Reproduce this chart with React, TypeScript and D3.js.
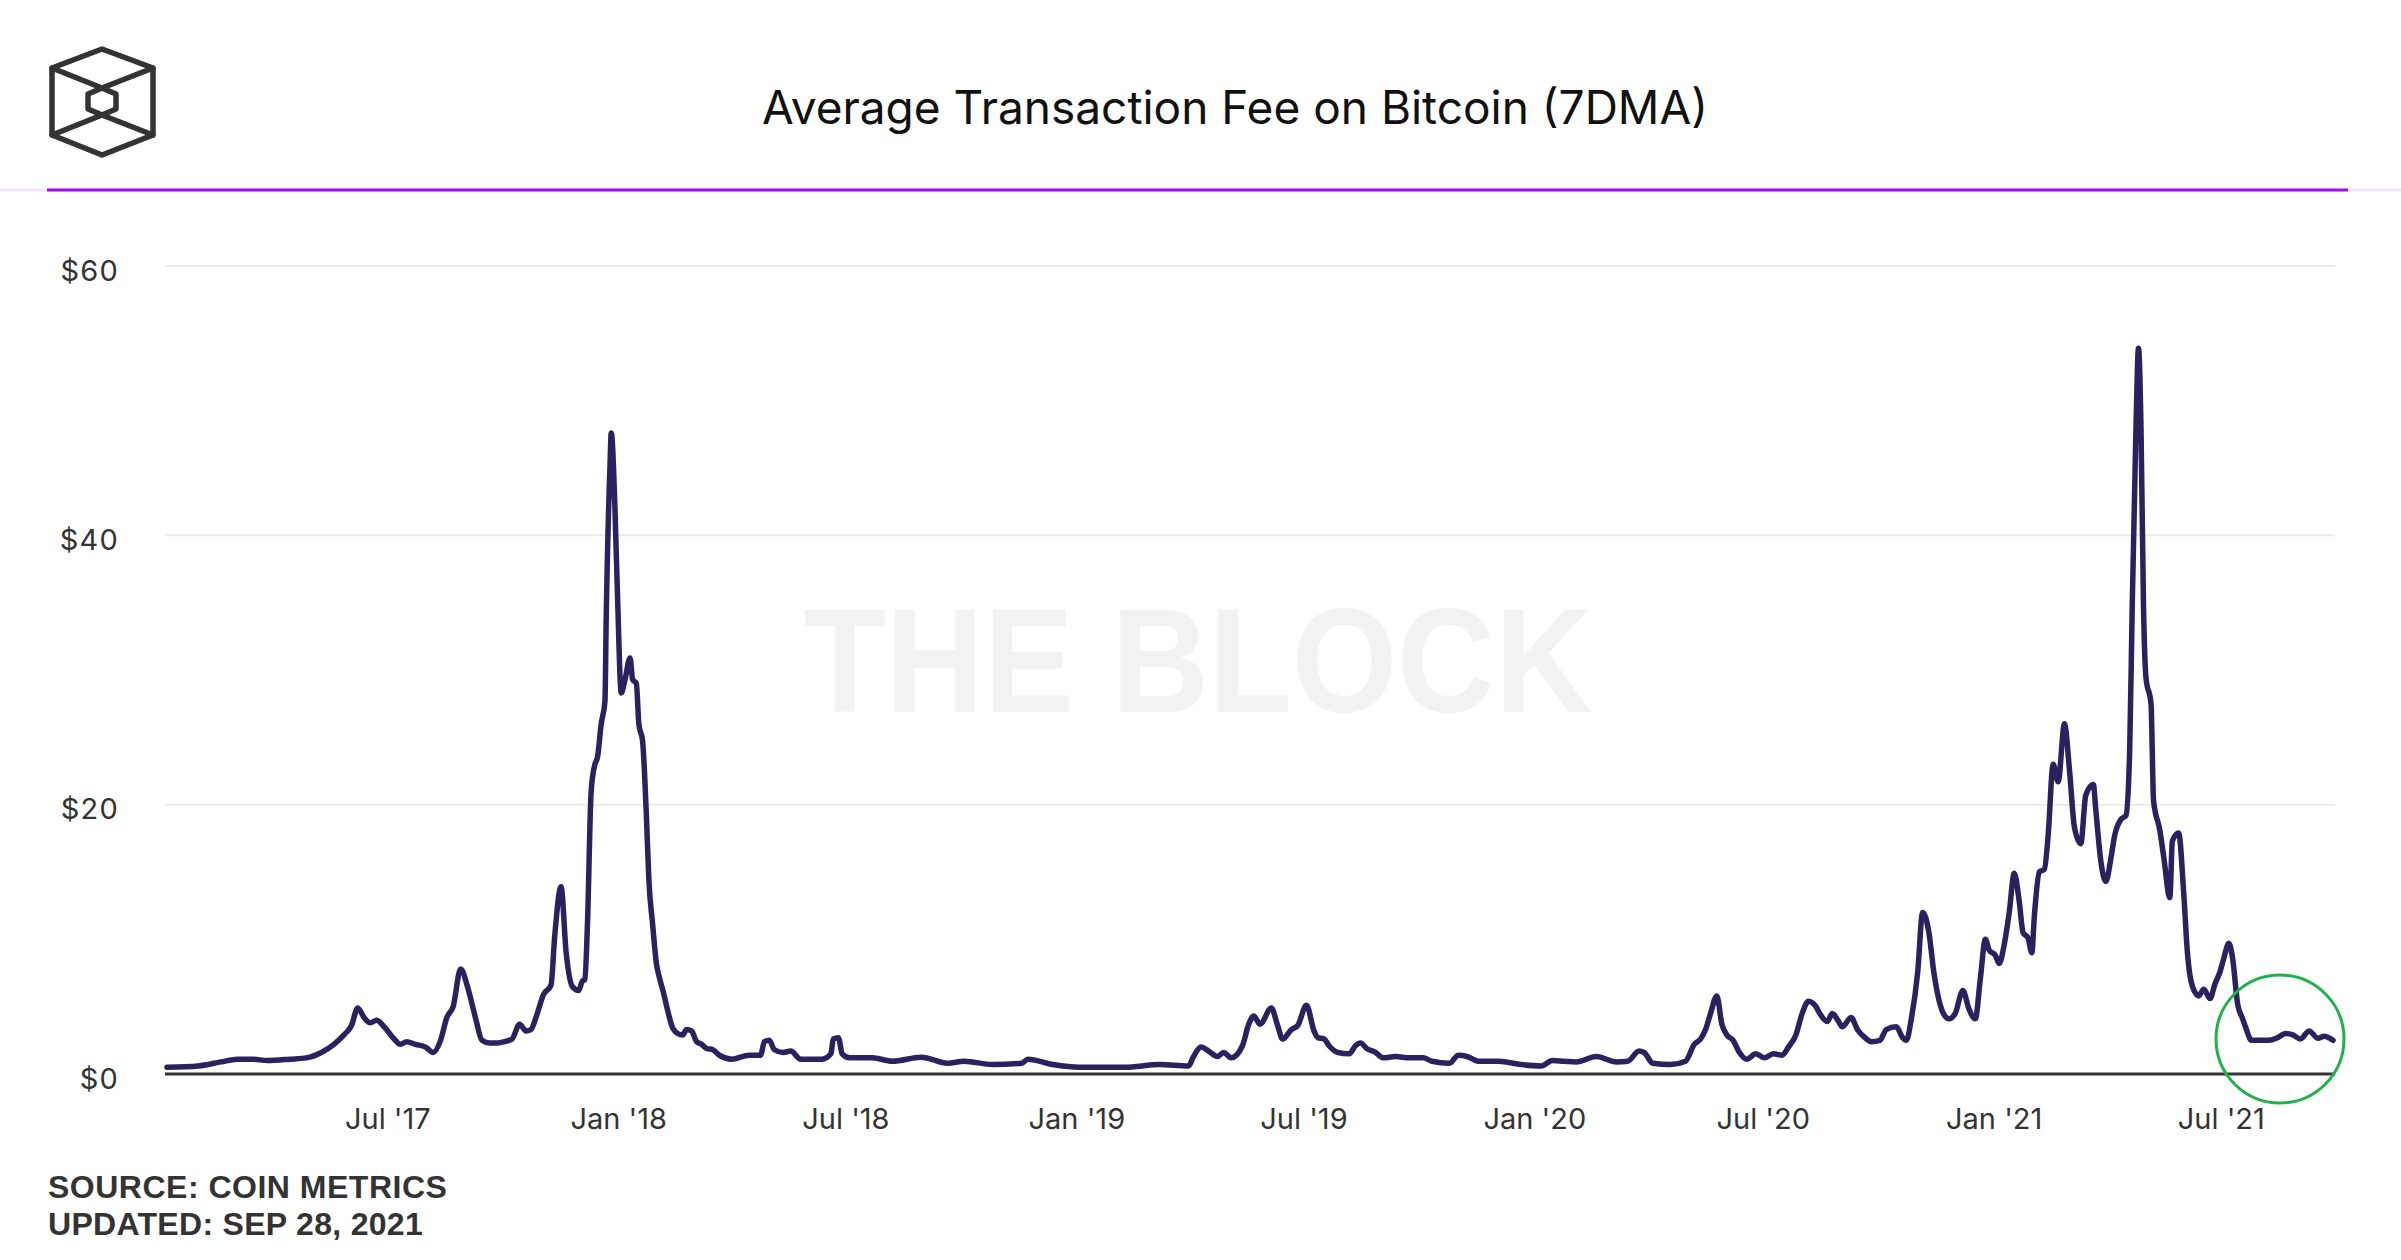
import React from 'react';
import * as d3 from 'd3';

const dates: string[] = [
  '2017-01-06','2017-01-31','2017-02-18','2017-03-03','2017-03-15','2017-03-27','2017-04-14','2017-04-27','2017-05-09','2017-05-19',
  '2017-05-27','2017-06-02','2017-06-07','2017-06-12','2017-06-17','2017-06-22','2017-06-29','2017-07-06','2017-07-11','2017-07-16',
  '2017-07-23','2017-07-31','2017-08-06','2017-08-12','2017-08-17','2017-08-22','2017-08-28','2017-09-03','2017-09-09','2017-09-14',
  '2017-09-20','2017-09-26','2017-10-02','2017-10-08','2017-10-14','2017-10-19','2017-10-23','2017-10-27','2017-11-02','2017-11-08',
  '2017-11-11','2017-11-16','2017-11-20','2017-11-25','2017-11-30','2017-12-03','2017-12-05','2017-12-07','2017-12-10','2017-12-13',
  '2017-12-15','2017-12-18','2017-12-21','2017-12-22','2017-12-25','2017-12-26','2017-12-29','2017-12-31','2018-01-03','2018-01-06',
  '2018-01-10','2018-01-12','2018-01-15','2018-01-17','2018-01-20','2018-01-23','2018-01-25','2018-01-28','2018-01-31','2018-02-02',
  '2018-02-06','2018-02-09','2018-02-13','2018-02-17','2018-02-21','2018-02-24','2018-02-28','2018-03-04','2018-03-08','2018-03-12',
  '2018-03-17','2018-03-22','2018-04-01','2018-04-15','2018-04-24','2018-04-27','2018-05-01','2018-05-05','2018-05-12','2018-05-18',
  '2018-05-26','2018-06-03','2018-06-12','2018-06-19','2018-06-21','2018-06-25','2018-06-28','2018-07-04','2018-07-22','2018-08-07',
  '2018-08-30','2018-09-20','2018-10-03','2018-10-26','2018-11-18','2018-11-23','2018-12-13','2019-01-03','2019-02-08','2019-03-08',
  '2019-03-31','2019-04-04','2019-04-10','2019-04-16','2019-04-23','2019-04-28','2019-05-04','2019-05-13','2019-05-18','2019-05-22',
  '2019-05-27','2019-06-05','2019-06-10','2019-06-14','2019-06-21','2019-06-26','2019-07-03','2019-07-09','2019-07-12','2019-07-17',
  '2019-07-21','2019-07-28','2019-08-06','2019-08-11','2019-08-15','2019-08-20','2019-08-27','2019-09-02','2019-09-12','2019-09-23',
  '2019-10-04','2019-10-11','2019-10-25','2019-11-01','2019-11-08','2019-11-17','2019-12-03','2019-12-21','2020-01-06','2020-01-15',
  '2020-01-24','2020-02-03','2020-02-19','2020-03-06','2020-03-15','2020-03-24','2020-03-28','2020-04-04','2020-04-18','2020-04-30',
  '2020-05-07','2020-05-12','2020-05-16','2020-05-20','2020-05-25','2020-05-29','2020-06-02','2020-06-07','2020-06-12','2020-06-18',
  '2020-06-25','2020-07-02','2020-07-09','2020-07-16','2020-07-21','2020-07-27','2020-08-01','2020-08-06','2020-08-12','2020-08-15',
  '2020-08-21','2020-08-25','2020-08-30','2020-09-02','2020-09-09','2020-09-14','2020-09-20','2020-09-25','2020-10-02','2020-10-07',
  '2020-10-15','2020-10-20','2020-10-23','2020-10-27','2020-11-01','2020-11-05','2020-11-10','2020-11-14','2020-11-17','2020-11-21',
  '2020-11-26','2020-12-01','2020-12-07','2020-12-12','2020-12-17','2020-12-21','2020-12-25','2020-12-28','2021-01-02','2021-01-05',
  '2021-01-09','2021-01-13','2021-01-17','2021-01-21','2021-01-24','2021-01-28','2021-01-31','2021-02-02','2021-02-06','2021-02-10',
  '2021-02-13','2021-02-17','2021-02-21','2021-02-26','2021-03-02','2021-03-06','2021-03-11','2021-03-15','2021-03-21','2021-03-23',
  '2021-03-27','2021-03-31','2021-04-04','2021-04-07','2021-04-12','2021-04-16','2021-04-19','2021-04-21','2021-04-24','2021-04-26',
  '2021-04-28','2021-04-30','2021-05-02','2021-05-06','2021-05-08','2021-05-13','2021-05-16','2021-05-21','2021-05-23','2021-05-28',
  '2021-06-01','2021-06-04','2021-06-08','2021-06-13','2021-06-17','2021-06-22','2021-06-26','2021-06-30','2021-07-03','2021-07-07',
  '2021-07-10','2021-07-14','2021-07-18','2021-07-21','2021-07-25','2021-08-01','2021-08-08','2021-08-15','2021-08-21','2021-08-27',
  '2021-09-02','2021-09-09','2021-09-16','2021-09-21','2021-09-28'
];

const fees: number[] = [
  0.5,0.6,0.9,1.1,1.1,1.0,1.1,1.2,1.6,2.2,
  2.9,3.6,4.9,4.2,3.8,4.0,3.4,2.6,2.2,2.4,
  2.2,2.0,1.6,2.5,4.2,5.0,7.8,6.3,4.1,2.5,
  2.3,2.3,2.4,2.6,3.7,3.2,3.3,4.2,5.9,6.6,
  10.3,13.9,9.1,6.5,6.2,6.9,7.0,11.0,21.0,23.0,
  23.5,26.0,27.7,33.9,45.2,47.6,41.9,35.5,28.3,29.3,
  30.9,29.3,29.0,26.0,24.7,19.2,14.4,11.1,8.2,7.3,
  5.9,4.7,3.4,3.0,2.9,3.3,3.2,2.4,2.2,1.9,
  1.8,1.4,1.1,1.4,1.4,2.4,2.5,1.8,1.6,1.7,
  1.1,1.1,1.1,1.5,2.6,2.7,1.5,1.2,1.2,0.95,
  1.25,0.8,0.95,0.7,0.8,1.1,0.7,0.5,0.5,0.7,
  0.6,1.3,2.0,1.7,1.3,1.6,1.2,2.1,3.7,4.3,
  3.7,4.9,3.6,2.6,3.3,3.6,5.1,3.2,2.7,2.6,
  2.1,1.6,1.5,2.1,2.3,1.9,1.6,1.2,1.3,1.2,
  1.2,0.95,0.8,1.4,1.3,0.95,0.95,0.7,0.6,1.0,
  0.95,0.9,1.3,0.9,0.95,1.7,1.6,0.8,0.7,0.95,
  2.2,2.6,3.3,4.5,5.8,3.7,2.9,2.5,1.6,1.1,
  1.5,1.2,1.5,1.4,2.0,2.9,4.5,5.4,5.0,4.5,
  3.9,4.5,3.9,3.5,4.2,3.3,2.7,2.4,2.5,3.3,
  3.5,2.7,2.5,4.1,7.5,12.0,10.5,7.5,5.9,4.6,
  4.1,4.5,6.2,4.8,4.1,7.1,10.0,9.2,8.8,8.2,
  9.6,12.0,14.9,12.8,10.5,10.1,9.0,11.7,15.0,15.2,
  17.7,23.0,21.7,26.0,22.6,18.3,17.1,20.7,21.5,19.6,
  15.8,14.3,16.0,17.7,18.9,19.2,24.1,34.7,48.0,53.9,
  48.0,34.7,29.4,27.5,20.3,18.1,16.2,13.1,17.3,17.9,
  13.5,9.0,6.5,5.8,6.3,5.6,6.7,7.6,8.6,9.7,
  8.6,5.2,4.1,3.3,2.5,2.5,2.5,2.7,3.0,2.9,
  2.6,3.2,2.65,2.8,2.5
];

const yTicks: number[] = [0, 20, 40, 60];
const yTickLabels: string[] = ['$0', '$20', '$40', '$60'];
const xTickDates: string[] = ['2017-07-01','2018-01-01','2018-07-01','2019-01-01','2019-07-01','2020-01-01','2020-07-01','2021-01-01','2021-07-01'];
const xTickLabels: string[] = ["Jul '17","Jan '18","Jul '18","Jan '19","Jul '19","Jan '20","Jul '20","Jan '21","Jul '21"];

const TITLE = 'Average Transaction Fee on Bitcoin (7DMA)';
const SOURCE = 'SOURCE: COIN METRICS';
const UPDATED = 'UPDATED: SEP 28, 2021';

export default function App() {
  const W = 2401;
  const H = 1260;
  const parse = d3.utcParse('%Y-%m-%d');
  const data = dates.map((d, i) => ({ date: parse(d) as Date, v: fees[i] }));
  const left = 165;
  const right = 2335;
  const x = d3
    .scaleUtc()
    .domain([parse('2017-01-06') as Date, parse('2021-09-28') as Date])
    .range([167, 2333]);
  const y = d3.scaleLinear().domain([0, 60]).range([1074, 266]);
  const line = d3
    .line<{ date: Date; v: number }>()
    .x((d) => x(d.date))
    .y((d) => y(d.v))
    .curve(d3.curveMonotoneX);

  return (
    <svg
      width={W}
      height={H}
      viewBox={`0 0 ${W} ${H}`}
      style={{ position: 'absolute', left: 0, top: 0, background: '#fff' }}
    >
      <rect x={0} y={0} width={W} height={H} fill="#ffffff" />
      {/* logo */}
      <g fill="none" stroke="#333333" strokeWidth={5.5} strokeLinejoin="round" strokeLinecap="round">
        <path d="M102,49 L153,68 L153,135 L102,155 L52,135 L52,68 Z" />
        <path d="M52,68 L102,88 L153,68" />
        <path d="M52,135 L102,115 L153,135" />
        <path d="M102,88 L116,94 L116,109 L102,115 L88,109 L88,94 Z" />
      </g>
      {/* title */}
      <text
        x={1235}
        y={124}
        textAnchor="middle"
        fontFamily="Inter, 'Noto Sans', sans-serif"
        fontSize={46}
        fill="#111111"
      >
        {TITLE}
      </text>
      {/* header rule */}
      <line x1={0} x2={W} y1={190} y2={190} stroke="#f1e6fb" strokeWidth={3} />
      <line x1={47} x2={2348} y1={190} y2={190} stroke="#a00cf2" strokeWidth={3} />

      {/* watermark */}
      <text
        x={1198}
        y={712}
        textAnchor="middle"
        fontFamily="'Liberation Sans', Arial, sans-serif"
        fontWeight="bold"
        fontSize={148}
        fill="#f2f2f2"
        textLength={789}
        lengthAdjust="spacingAndGlyphs"
      >
        THE BLOCK
      </text>

      {/* gridlines */}
      {yTicks.filter((t) => t > 0).map((t) => (
        <line key={t} x1={left} x2={right} y1={y(t)} y2={y(t)} stroke="#ebebeb" strokeWidth={2} />
      ))}
      {/* y labels */}
      {yTicks.map((t, i) => (
        <text
          key={t}
          x={119}
          y={y(t) + 4}
          textAnchor="end"
          dominantBaseline="central"
          fontFamily="Inter, 'Noto Sans', sans-serif"
          fontSize={29}
          letterSpacing={1.2}
          fill="#333333"
        >
          {yTickLabels[i]}
        </text>
      ))}

      {/* data line */}
      <path
        d={line(data) || ''}
        fill="none"
        stroke="#2a225e"
        strokeWidth={5.5}
        strokeLinejoin="round"
        strokeLinecap="round"
      />

      {/* baseline axis */}
      <line x1={left} x2={right} y1={y(0)} y2={y(0)} stroke="#333333" strokeWidth={3} />

      {/* x labels */}
      {xTickDates.map((d, i) => (
        <text
          key={d}
          x={x(parse(d) as Date)}
          y={1129}
          textAnchor="middle"
          fontFamily="Inter, 'Noto Sans', sans-serif"
          fontSize={29}
          fill="#333333"
        >
          {xTickLabels[i]}
        </text>
      ))}

      {/* annotation circle */}
      <ellipse cx={2280} cy={1039} rx={64} ry={64} fill="none" stroke="#22b04b" strokeWidth={3} />

      {/* source */}
      <text
        x={48}
        y={1198}
        fontFamily="'Liberation Sans', Arial, sans-serif"
        fontWeight="bold"
        fontSize={32}
        letterSpacing={0.5}
        fill="#333333"
      >
        {SOURCE}
      </text>
      <text
        x={48}
        y={1235}
        fontFamily="'Liberation Sans', Arial, sans-serif"
        fontWeight="bold"
        fontSize={32}
        letterSpacing={0.3}
        fill="#333333"
      >
        {UPDATED}
      </text>
    </svg>
  );
}
